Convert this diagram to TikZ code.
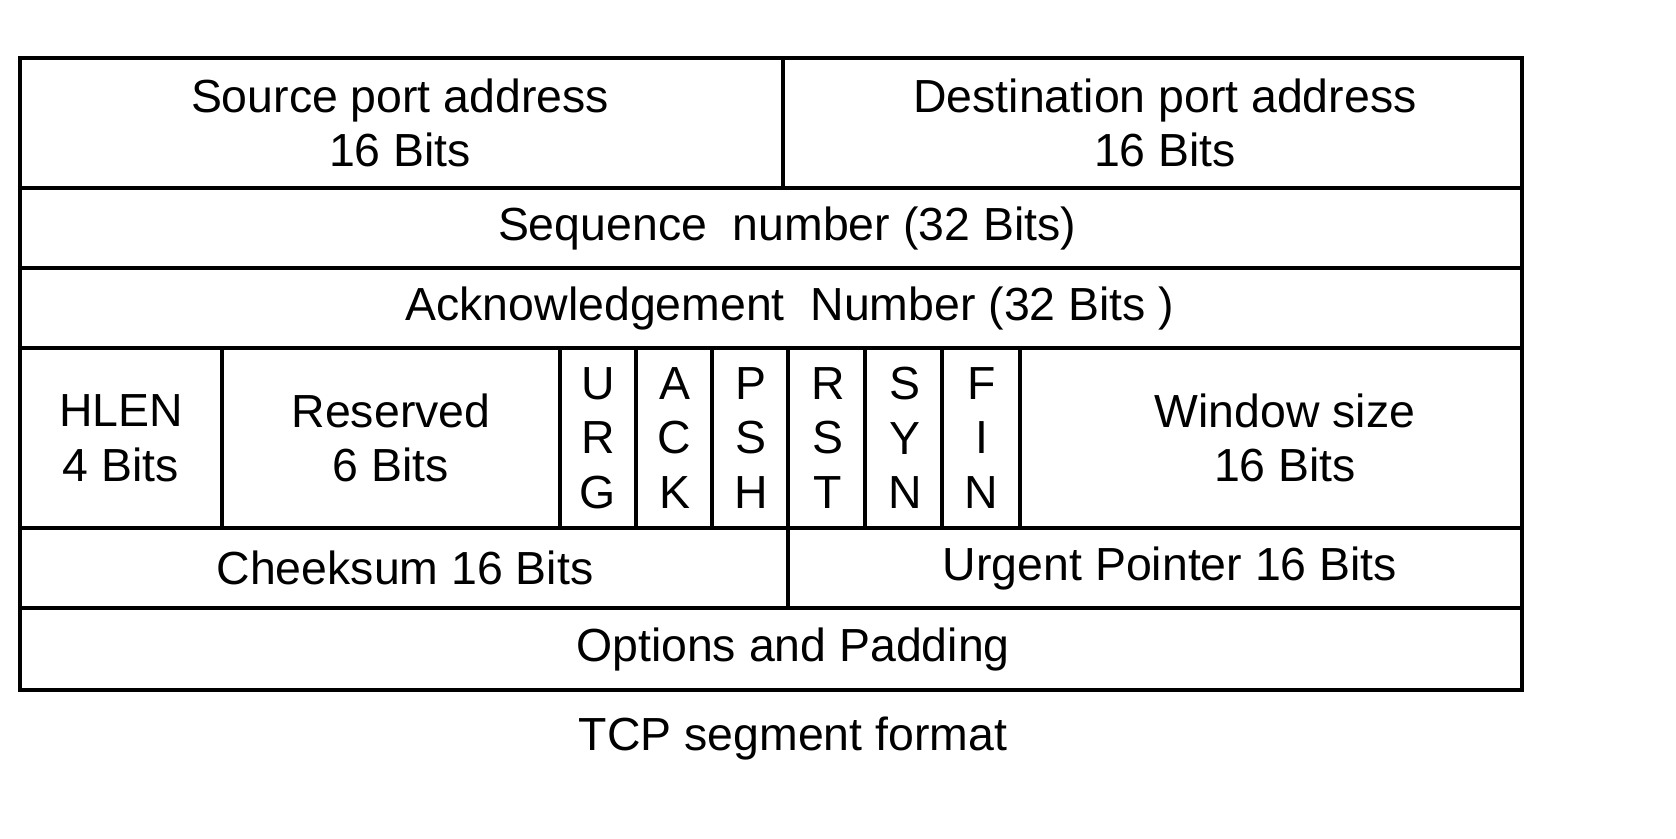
\documentclass[tikz,border=0pt]{standalone}
\usepackage{fontspec}
\setmainfont{Liberation Sans}
\tikzset{field/.style={font=\fontsize{13.2}{15.5}\selectfont, align=center, inner sep=0pt}}

\begin{document}
\begin{tikzpicture}[x=0.01cm, y=-0.01cm, line width=0.9pt]
\useasboundingbox (0,0) rectangle (1676,838);
% outer frame and rows
\draw (20,58) rectangle (1522,690);
\foreach \y in {188,268,348,528,608}
  \draw (20,\y) -- (1522,\y);
\draw (783,58) -- (783,188);
\draw (788,528) -- (788,608);
\foreach \x in {222,560,636,712,788,865,942,1020}
  \draw (\x,348) -- (\x,528);
% fields
\node[field] (srcport) at (400,123) {Source port address\\16 Bits};
\node[field] (dstport) at (1165,123) {Destination port address\\16 Bits};
\node[field] (seqnum) at (787,228) {Sequence\ \ number (32 Bits)};
\node[field] (acknum) at (790,308) {Acknowledgement\ \ Number (32 Bits )};
\node[field] (hlen) at (121,438) {HLEN\\4 Bits};
\node[field] (reserved) at (391,438) {Reserved\\6 Bits};
\foreach \a/\b/\c [count=\i from 0] in {U/R/G, A/C/K, P/S/H, R/S/T, S/Y/N, F/I/N}
  \node[field] (flag\i) at (598+76.7*\i,438) {\a\\\b\\\c};
\node[field] (window) at (1285,438) {Window size\\16 Bits};
\node[field] (checksum) at (405,568) {Cheeksum 16 Bits};
\node[field] (urgptr) at (1170,568) {Urgent Pointer 16 Bits};
\node[field] (options) at (793,649) {Options and Padding};
% caption
\node[field] (caption) at (793,738) {TCP segment format};
\end{tikzpicture}
\end{document}
